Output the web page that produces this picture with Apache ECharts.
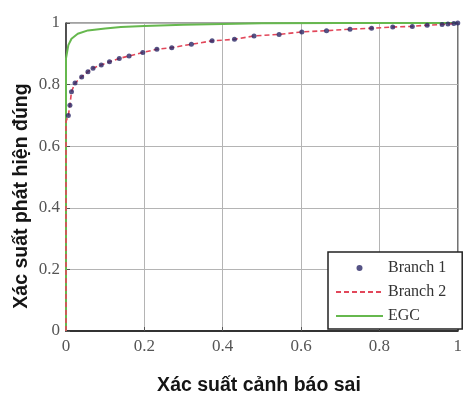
<!DOCTYPE html>
<html>
<head>
<meta charset="utf-8">
<script src="https://cdn.jsdelivr.net/npm/echarts@6/dist/echarts.min.js"></script>
<style>html,body{margin:0;padding:0;background:#fff;}#c{width:465px;height:396px;}</style>
</head>
<body>
<div id="c"></div>
<script>
// Tick values
const xTicks = [0, 0.2, 0.4, 0.6, 0.8, 1];
const yTicks = [0, 0.2, 0.4, 0.6, 0.8, 1];

// Branch curves (false-alarm prob, detection prob)
const branchPfa = [0, 0, 0.006, 0.01, 0.014, 0.023, 0.04, 0.056, 0.069, 0.09, 0.111, 0.136, 0.161, 0.196, 0.232, 0.27, 0.32, 0.373, 0.43, 0.48, 0.544, 0.602, 0.665, 0.725, 0.78, 0.834, 0.884, 0.922, 0.96, 0.975, 0.99, 1];
const branch1Pd = [0, 0.68, 0.70, 0.733, 0.777, 0.805, 0.825, 0.842, 0.853, 0.864, 0.874, 0.885, 0.893, 0.904, 0.915, 0.92, 0.931, 0.942, 0.947, 0.958, 0.963, 0.971, 0.975, 0.98, 0.983, 0.987, 0.989, 0.993, 0.995, 0.997, 0.998, 1];
const branch2Pd = [0, 0.68, 0.70, 0.733, 0.777, 0.805, 0.825, 0.842, 0.853, 0.864, 0.874, 0.885, 0.893, 0.904, 0.915, 0.92, 0.931, 0.942, 0.947, 0.958, 0.963, 0.971, 0.975, 0.98, 0.983, 0.987, 0.989, 0.993, 0.995, 0.997, 0.998, 1];

// EGC curve
const egcPfa = [0, 0, 0.006, 0.014, 0.03, 0.056, 0.1, 0.14, 0.2, 0.3, 0.4, 0.5, 0.7, 1];
const egcPd  = [0, 0.885, 0.928, 0.949, 0.965, 0.976, 0.982, 0.987, 0.99, 0.994, 0.997, 0.999, 1, 1];

const seriesNames = ['Branch 1', 'Branch 2', 'EGC'];
const xTitle = 'Xác suất cảnh báo sai';
const yTitle = 'Xác suất phát hiện đúng';

const zip = (xs, ys) => xs.map((x, i) => [x, ys[i]]);
const b1 = zip(branchPfa, branch1Pd).slice(2);
const b2 = zip(branchPfa, branch2Pd);
const egc = zip(egcPfa, egcPd);

const serif = "'Liberation Serif','DejaVu Serif',serif";
const sans = "'Liberation Sans',Arial,sans-serif";

const chart = echarts.init(document.getElementById('c'), null, {renderer: 'canvas'});
chart.setOption({
  animation: false,
  backgroundColor: '#fff',
  grid: {left: 66, right: 2, top: 23, bottom: 65, show: true, borderColor: '#444', borderWidth: 1},
  xAxis: {
    type: 'value', min: xTicks[0], max: xTicks[xTicks.length - 1], interval: 0.2,
    axisLine: {show: true, onZero: false, lineStyle: {color: '#333', width: 2}},
    axisTick: {show: true, inside: true, length: 4, lineStyle: {color: '#555'}},
    splitLine: {show: true, lineStyle: {color: '#b4b4b4', width: 1}},
    axisLabel: {color: '#555', fontFamily: serif, fontSize: 17, margin: 7}
  },
  yAxis: {
    type: 'value', min: yTicks[0], max: yTicks[yTicks.length - 1], interval: 0.2,
    axisLine: {show: true, onZero: false, lineStyle: {color: '#333', width: 1.5}},
    axisTick: {show: true, inside: true, length: 4, lineStyle: {color: '#555'}},
    splitLine: {show: true, lineStyle: {color: '#b4b4b4', width: 1}},
    axisLabel: {color: '#555', fontFamily: serif, fontSize: 17, margin: 6}
  },
  legend: {
    orient: 'vertical', left: 328, top: 252,
    data: [
      {name: seriesNames[0]},
      {name: seriesNames[1], itemStyle: {opacity: 0}},
      {name: seriesNames[2], itemStyle: {opacity: 0}}
    ],
    itemWidth: 47, itemHeight: 6, itemGap: 6,
    padding: [7, 16, 4, 7],
    backgroundColor: '#fff', borderColor: '#222', borderWidth: 1.5, borderRadius: 0,
    textStyle: {fontFamily: serif, fontSize: 16, color: '#333', lineHeight: 18}
  },
  graphic: [
    {type: 'text', x: 22, y: 196, rotation: Math.PI / 2,
     style: {text: yTitle, fontFamily: sans, fontSize: 19.5, fontWeight: 'bold', fill: '#151515', align: 'center', verticalAlign: 'middle'}},
    {type: 'text', x: 259, y: 386,
     style: {text: xTitle, fontFamily: sans, fontSize: 19.5, fontWeight: 'bold', fill: '#151515', align: 'center', verticalAlign: 'middle'}}
  ],
  series: [
    {name: seriesNames[2], type: 'line', data: egc, symbol: 'none', z: 3,
     lineStyle: {color: '#66b84e', width: 2}, itemStyle: {color: '#66b84e'}},
    {name: seriesNames[1], type: 'line', data: b2, symbol: 'none', z: 4,
     lineStyle: {color: '#e2475a', width: 1.6, type: [5, 3]}, itemStyle: {color: '#e2475a'}},
    {name: seriesNames[0], type: 'scatter', data: b1, symbol: 'circle', symbolSize: 5, z: 5,
     itemStyle: {color: '#2b2866'}}
  ]
});
</script>
</body>
</html>
